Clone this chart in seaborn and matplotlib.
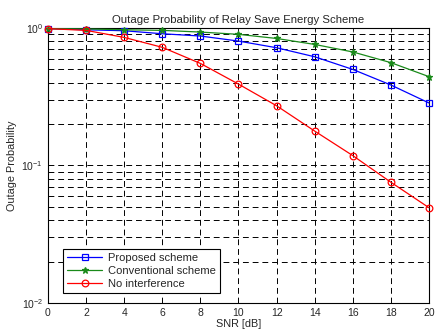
import numpy as np
import pandas as pd
import matplotlib
matplotlib.use("Agg")
import matplotlib.pyplot as plt
import seaborn as sns
from matplotlib.ticker import LogLocator, NullFormatter, FixedLocator
from matplotlib.lines import Line2D

snr = [0, 2, 4, 6, 8, 10, 12, 14, 16, 18, 20]
proposed = [0.99, 0.972, 0.956, 0.909, 0.875, 0.804, 0.719, 0.618, 0.50, 0.385, 0.285]
conventional = [0.99, 0.985, 0.972, 0.962, 0.935, 0.90, 0.84, 0.76, 0.67, 0.56, 0.443]
no_interf = [0.99, 0.962, 0.855, 0.724, 0.553, 0.391, 0.272, 0.178, 0.118, 0.0755, 0.0493]
series_names = ["Proposed scheme", "Conventional scheme", "No interference"]

sns.set_style("white")
plt.rcParams['font.family'] = ['Liberation Sans', 'DejaVu Sans']

df = pd.DataFrame({
    "SNR": snr * 3,
    "P": proposed + conventional + no_interf,
    "Scheme": [series_names[0]] * len(snr) + [series_names[1]] * len(snr) + [series_names[2]] * len(snr),
})

fig = plt.figure(figsize=(4.36, 3.34), dpi=100)
ax = fig.add_axes([0.110, 0.093, 0.874, 0.823])

palette = {series_names[0]: "#0000ff", series_names[1]: "#1a8a1a", series_names[2]: "#ff0000"}
markers = {series_names[0]: "s", series_names[1]: "*", series_names[2]: "o"}
sns.lineplot(data=df, x="SNR", y="P", hue="Scheme", style="Scheme", palette=palette,
             markers=markers, dashes=False, ax=ax, linewidth=0.9, legend=False)
for line in ax.lines:
    c = line.get_color()
    line.set_markeredgecolor(c)
    line.set_markeredgewidth(0.9)
    line.set_clip_on(False)
    line.set_zorder(5)
    if line.get_marker() == "*":
        line.set_markerfacecolor(c)
        line.set_markersize(5)
    else:
        line.set_markerfacecolor("none")
        line.set_markersize(4.8)

ax.set_yscale("log")
ax.set_xlim(0, 20)
ax.set_ylim(1e-2, 1)
ax.xaxis.set_major_locator(FixedLocator(snr))
ax.yaxis.set_major_locator(LogLocator(base=10, numticks=5))
ax.yaxis.set_minor_locator(LogLocator(base=10, subs=np.arange(2, 10) * 1.0, numticks=20))
ax.yaxis.set_minor_formatter(NullFormatter())

ax.grid(True, which="major", axis="both", color="black", linestyle=(0, (6, 4)), linewidth=0.7)
ax.grid(True, which="minor", axis="y", color="black", linestyle=(0, (6, 4)), linewidth=0.7)

ax.tick_params(which="both", direction="in", top=True, right=True, labelsize=7.5, length=3, width=0.6)
ax.tick_params(which="minor", length=1.5)
for s in ax.spines.values():
    s.set_color("black")
    s.set_linewidth(0.8)

ax.set_xlabel("SNR [dB]", fontsize=7.8, labelpad=1)
ax.set_ylabel("Outage Probability", fontsize=7.8, labelpad=3)
ax.set_title("Outage Probability of Relay Save Energy Scheme", fontsize=8.2, pad=4)

handles = []
for name in series_names:
    c = palette[name]
    m = markers[name]
    h = Line2D([], [], color=c, marker=m, linewidth=0.9, markersize=4.8 if m != "*" else 5,
               markerfacecolor=(c if m == "*" else "none"), markeredgecolor=c, markeredgewidth=0.9)
    handles.append(h)
leg = ax.legend(handles, series_names, loc="lower left", bbox_to_anchor=(0.025, 0.015),
                fontsize=8, frameon=True, fancybox=False, edgecolor="black",
                framealpha=1, borderpad=0.35, labelspacing=0.3, handlelength=3.2, handletextpad=0.5)
leg.get_frame().set_linewidth(0.8)
leg.set_zorder(10)

fig.savefig("out.png", dpi=100)
